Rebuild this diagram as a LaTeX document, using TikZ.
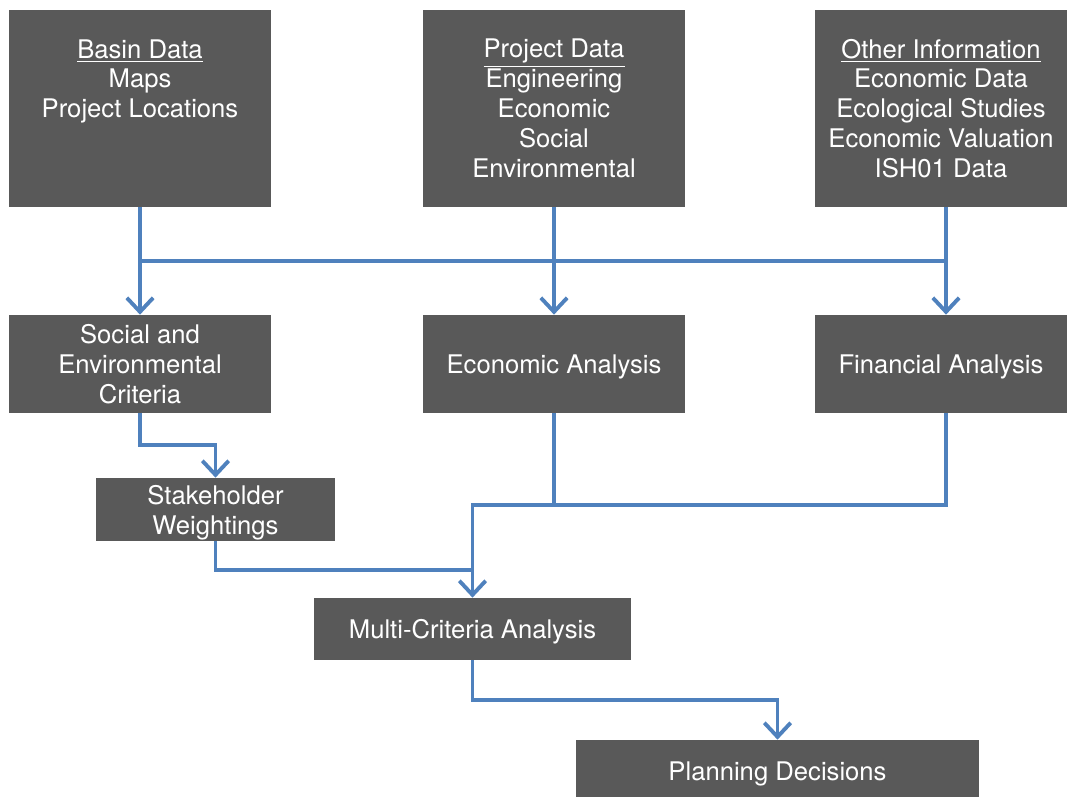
\documentclass[tikz,border=0pt]{standalone}
\usepackage{fontspec}
\setmainfont{TeX Gyre Heros}
\usepackage{xcolor}
\usepackage{tikz}
\usetikzlibrary{arrows.meta}

\definecolor{boxgray}{HTML}{595959}
\definecolor{flowblue}{HTML}{4F81BD}

\begin{document}
\begin{tikzpicture}[
        x=0.02cm, y=-0.02cm,
        block/.style={fill=boxgray, text=white, inner sep=0pt, align=center,
            font=\fontsize{14.6}{17}\selectfont},
        low/.style={text depth=0pt},
        bigblock/.style={block, minimum width=5.24cm, minimum height=3.94cm},
        wideblock/.style={block, minimum width=5.04cm, minimum height=3.94cm},
        midblock/.style={block, minimum width=5.24cm, minimum height=1.96cm},
        link/.style={draw=flowblue, line width=2.2pt},
        flow/.style={link, -{Straight Barb[length=8pt, width=15pt, line width=2.2pt]}}
    ]
    
    \useasboundingbox (0,0) rectangle (1068,796);
    
    % ---------- 数据来源 ----------
    \node[bigblock] (basin) at (140, 108.5) {\underline{Basin Data}\\Maps\\Project Locations\\~\\~};
    \node[bigblock] (project) at (554, 108.5) {\underline{Project Data}\\Engineering\\Economic\\Social\\Environmental};
    \node[wideblock] (other) at (941, 108.5) {\underline{Other Information}\\Economic Data\\Ecological Studies\\Economic Valuation\\ISH01 Data};
    
    % ---------- 分析 ----------
    \node[midblock] (social) at (140, 364) {Social and\\Environmental\\Criteria};
    \node[midblock, low] (econ) at (554, 364) {Economic Analysis};
    \node[block, low, minimum width=5.04cm, minimum height=1.96cm] (fin) at (941, 364) {Financial Analysis};
    
    \node[block, low, minimum width=4.78cm, minimum height=1.26cm] (stake) at (215.5, 509.5) {Stakeholder\\Weightings};
    \node[block, low, minimum width=6.34cm, minimum height=1.24cm] (multi) at (472.5, 629) {Multi-Criteria Analysis};
    \node[block, low, minimum width=8.06cm, minimum height=1.24cm] (plan) at (777.5, 771) {Planning Decisions};
    
    % ---------- 辅助点 ----------
    \coordinate (top) at (0, 261);
    \coordinate (sw) at (0, 445);
    \coordinate (ef) at (0, 505);
    \coordinate (sm) at (0, 570);
    \coordinate (mp) at (0, 700);
    
    % ---------- 连线 ----------
    \draw[link] (basin.south |- top) -- ([xshift=0.1cm]other.south |- top);
    \draw[flow] (basin.south) -- (social.north);
    \draw[flow] (project.south) -- (econ.north);
    \draw[flow] ([xshift=0.1cm]other.south) -- ([xshift=0.1cm]fin.north);
    
    \draw[flow] (social.south) -- (social.south |- sw) -| (stake.north);
    
    \draw[link] (econ.south) -- (econ.south |- ef);
    \draw[flow] ([xshift=0.1cm]fin.south) -- ([xshift=0.1cm]fin.south |- ef) -| (multi.north);
    \draw[link] (stake.south) |- (multi.north |- sm);
    
    \draw[flow] (multi.south) -- (multi.south |- mp) -| (plan.north);
    
\end{tikzpicture}
\end{document}
